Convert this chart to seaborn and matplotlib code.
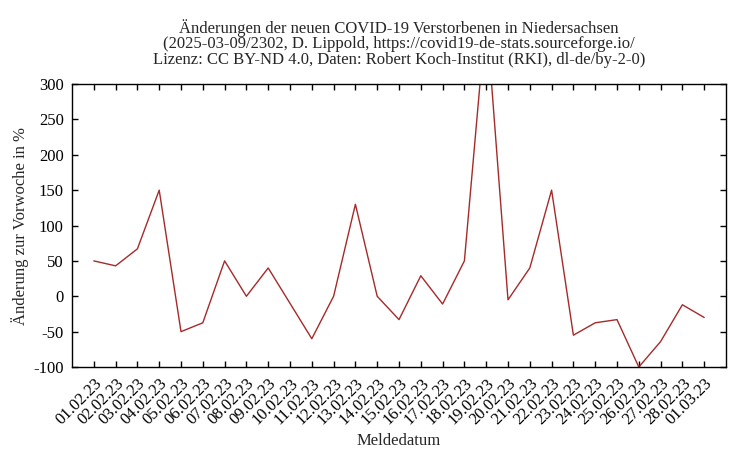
import pandas as pd
import seaborn as sns
import matplotlib.pyplot as plt

# Daily reporting dates and week-over-week change of new COVID-19 deaths (%)
dates = ['01.02.23', '02.02.23', '03.02.23', '04.02.23', '05.02.23', '06.02.23',
         '07.02.23', '08.02.23', '09.02.23', '10.02.23', '11.02.23', '12.02.23',
         '13.02.23', '14.02.23', '15.02.23', '16.02.23', '17.02.23', '18.02.23',
         '19.02.23', '20.02.23', '21.02.23', '22.02.23', '23.02.23', '24.02.23',
         '25.02.23', '26.02.23', '27.02.23', '28.02.23', '01.03.23']
change = [50, 43, 67, 150, -50, -37.5,
          50, 0, 40, -10, -60, 0,
          130, 0, -33, 29, -11, 50,
          400, -5, 40, 150, -55, -37.5,
          -33, -100, -64, -12, -30]
y_ticks = [-100, -50, 0, 50, 100, 150, 200, 250, 300]

title = ('Änderungen der neuen COVID-19 Verstorbenen in Niedersachsen\n'
         '(2025-03-09/2302, D. Lippold, https://covid19-de-stats.sourceforge.io/\n'
         'Lizenz: CC BY-ND 4.0, Daten: Robert Koch-Institut (RKI), dl-de/by-2-0)')

df = pd.DataFrame({'pos': range(len(dates)), 'Meldedatum': dates, 'change': change})

sns.set_style('white')
plt.rcParams['font.family'] = ['Liberation Serif', 'DejaVu Serif']
plt.rcParams['font.size'] = 12

fig = plt.figure(figsize=(7.5, 4.5), dpi=100)
ax = fig.add_axes([0.096, 0.1844, 0.872, 0.6289])

sns.lineplot(data=df, x='pos', y='change', ax=ax, color='#a52a2a',
             linewidth=1.0, sort=False)

ax.set_xlim(-1, len(dates))
ax.set_ylim(-100, 300)
ax.set_xticks(df['pos'])
ax.set_xticklabels(dates, rotation=45, ha='right', va='top',
                   rotation_mode='anchor')
ax.set_yticks(y_ticks)
ax.set_yticklabels([str(v) for v in y_ticks])
ax.tick_params(direction='in', length=4.5, width=1.0, top=True, right=True,
               bottom=True, left=True, labelsize=12, colors='black', pad=6)
for s in ax.spines.values():
    s.set_linewidth(1.0)
    s.set_color('black')
    s.set_visible(True)

ax.set_xlabel('Meldedatum', fontsize=12)
ax.xaxis.set_label_coords(0.5, -0.233)
ax.set_ylabel('Änderung zur Vorwoche in %', fontsize=12)
ax.yaxis.set_label_coords(-0.066, 0.5)
fig.text(0.532, 0.958, title, fontsize=12, ha='center', va='top',
         linespacing=0.95)

fig.savefig('out.png', dpi=100)
